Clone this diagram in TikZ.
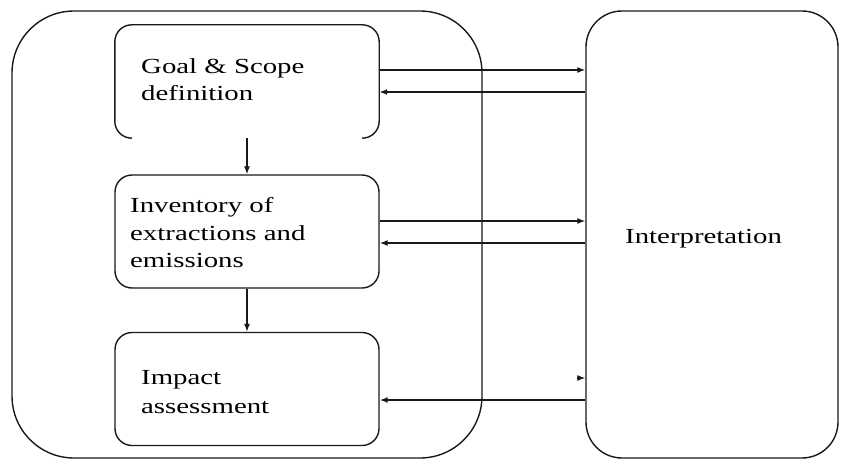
\documentclass[tikz,border=0pt]{standalone}
\usepackage{fontspec}
\setmainfont{Liberation Serif}[FakeStretch=1.34]
\usetikzlibrary{arrows.meta,calc}
\begin{document}
\begin{tikzpicture}[x=1pt,y=-1pt,
  frame/.style={draw=black!90,line width=1.4pt},
  stage/.style={frame,rounded corners=17pt,minimum width=264pt,minimum height=113pt,inner sep=0pt},
  lbl/.style={inner sep=0pt,align=left,font=\fontsize{21.5}{27.5}\selectfont},
  flow/.style={draw=black!90,line width=1.2pt,-{Latex[length=8pt,width=6pt]}},
  back/.style={flow,line width=1.7pt}]
\useasboundingbox (0,0) rectangle (842,460);

% outer containers
\node[frame,rounded corners=62pt,minimum width=470pt,minimum height=447pt,inner sep=0pt] (phase) at (247,234.5) {};
\node[frame,rounded corners=36pt,minimum width=252pt,minimum height=447pt,inner sep=0pt] (interp) at (712,234.5) {};

% stages (the first one is left open at the bottom)
\node[inner sep=0pt,minimum width=264pt,minimum height=113pt] (goal) at (247,81.5) {};
\draw[frame,rounded corners=17pt] ($(goal.south west)+(17,0)$) -- (goal.south west) -- (goal.north west)
  -- (goal.north east) -- (goal.south east) -- ($(goal.south east)+(-17,0)$);
\node[stage] (inv) at (247,231.5) {};
\node[stage] (imp) at (247,389) {};

% labels
\node[lbl,anchor=base west] (goaltxt) at (141,73) {Goal \& Scope};
\node[lbl,anchor=base west] (goaltxt2) at (141,100) {definition};
\node[lbl,anchor=base west] (invtxt) at (130,212) {Inventory of};
\node[lbl,anchor=base west] (invtxt2) at (130,240) {extractions and};
\node[lbl,anchor=base west] (invtxt3) at (130,267) {emissions};
\node[lbl,anchor=base west] (imptxt) at (141,384) {Impact};
\node[lbl,anchor=base west] (imptxt2) at (141,413) {assessment};
\node[lbl,anchor=base west] (interptxt) at (625,243) {Interpretation};

% sequence of stages
\draw[flow] (goal.south) -- (inv.north);
\draw[flow] (inv.south) -- (imp.north);

% exchanges with interpretation
\coordinate (g1) at ([yshift=11.5pt]goal.east);
\coordinate (g2) at ([yshift=-10.5pt]goal.east);
\coordinate (i1) at ([yshift=10.5pt]inv.east);
\coordinate (i2) at ([yshift=-11.5pt]inv.east);
\coordinate (m1) at ([yshift=11pt]imp.east);
\coordinate (m2) at ([yshift=-11pt]imp.east);
\draw[flow] (g1) -- (g1 -| interp.west);
\draw[back] (g2 -| interp.west) -- (g2);
\draw[flow] (i1) -- (i1 -| interp.west);
\draw[flow] (i2 -| interp.west) -- (i2);
\coordinate (m1s) at ($(m1 -| interp.west)+(-8,0)$);
\draw[flow] (m1s) -- (m1 -| interp.west);
\draw[back] (m2 -| interp.west) -- (m2);
\end{tikzpicture}
\end{document}
